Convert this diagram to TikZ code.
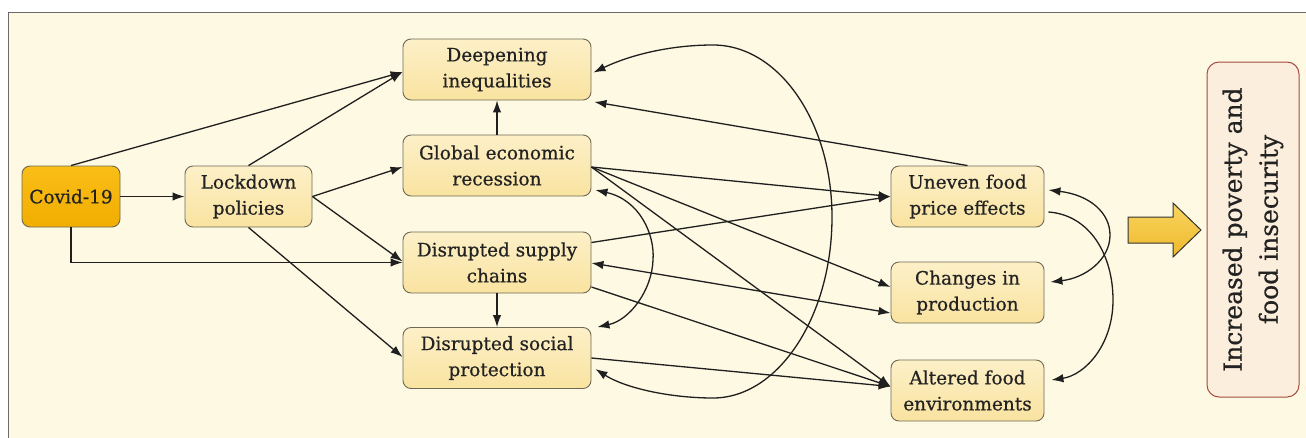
\documentclass[tikz,border=0pt]{standalone}
\usepackage{fontspec}
\setmainfont{DejaVu Serif}
\newfontfamily\slabfont[FakeBold=0.6]{DejaVu Serif}
\usetikzlibrary{arrows.meta,calc}
\definecolor{bgcream}{HTML}{FDF9E2}
\definecolor{frameg}{HTML}{6A6A6A}
\definecolor{boxtop}{HTML}{FDF0C8}
\definecolor{boxbot}{HTML}{F9E3A0}
\definecolor{boxline}{HTML}{6E6A55}
\definecolor{covtop}{HTML}{F9BE18}
\definecolor{covbot}{HTML}{F2AD00}
\definecolor{incfill}{HTML}{FBEEDC}
\definecolor{incline}{HTML}{A54B3F}
\definecolor{arrtop}{HTML}{F8D460}
\definecolor{arrbot}{HTML}{EFB92B}
\definecolor{txt}{HTML}{222222}
\tikzset{
  box/.style={draw=boxline, line width=0.9pt, rounded corners=8pt,
    top color=boxtop, bottom color=boxbot, inner sep=0pt,
    align=center, text=txt, font=\slabfont\fontsize{18.5}{26}\selectfont},
  covbox/.style={box, top color=covtop, bottom color=covbot},
  conn/.style={draw=black!88, line width=1.3pt, -{Latex[length=12pt,width=8.5pt]}},
  bconn/.style={draw=black!88, line width=1.3pt, {Latex[length=12pt,width=8.5pt]}-{Latex[length=12pt,width=8.5pt]}}
}
\begin{document}
\begin{tikzpicture}[x=1pt,y=-1pt]
\useasboundingbox (0,0) rectangle (1306,437);
\clip (0,0) rectangle (1306,437);
\fill[white] (0,0) rectangle (1306,437);
\draw[frameg, fill=bgcream, line width=0.9pt] (8,12) rectangle (1320,450);

% nodes
\node[covbox, minimum width=98pt, minimum height=61pt] (covid) at (71,196.5) {Covid-19};
\node[box, minimum width=127pt, minimum height=61pt] (lock) at (248.5,196.5) {Lockdown\\policies};
\node[box, minimum width=188pt, minimum height=61pt] (deep) at (497,69.5) {Deepening\\inequalities};
\node[box, minimum width=188pt, minimum height=61pt] (glob) at (497,165.5) {Global economic\\recession};
\node[box, minimum width=188pt, minimum height=61pt] (supp) at (497,262.5) {Disrupted supply\\chains};
\node[box, minimum width=188pt, minimum height=61pt] (soc) at (497,358) {Disrupted social\\protection};
\node[box, minimum width=153pt, minimum height=61pt] (unev) at (967.5,196.5) {Uneven food\\price effects};
\node[box, minimum width=153pt, minimum height=61pt] (chg) at (967.5,292.5) {Changes in\\production};
\node[box, minimum width=153pt, minimum height=61pt] (alt) at (967.5,390.5) {Altered food\\environments};
\node[draw=incline, line width=1pt, fill=incfill, rounded corners=12pt,
  minimum width=92pt, minimum height=335pt, inner sep=0pt] (incr) at (1253,229.5) {};
\node[rotate=90, align=center, text=txt, font=\slabfont\fontsize{25}{36}\selectfont] (incrtxt) at (incr.center) {Increased poverty and\\food insecurity};

% big arrow
\draw[line width=1pt, draw=black!80, top color=arrtop, bottom color=arrbot]
  (1128,217) -- (1173,217) -- (1173,203) -- (1201,230) -- (1173,257) -- (1173,243) -- (1128,243) -- cycle;

% straight connectors
\draw[conn] (covid.north) -- ($(deep.west)+(0,2.5)$);
\draw[conn] (lock.north) -- ($(deep.west)+(0,2.5)$);
\draw[conn] (covid.east) -- (lock.west);
\draw[conn] (covid.south) |- (supp.west);
\draw[conn] (lock.east) -- ($(glob.west)+(0,1.5)$);
\draw[conn] (lock.east) -- ($(supp.west)+(0,-1)$);
\draw[conn] (lock.south) -- ($(soc.west)+(0,-1)$);
\draw[conn] (glob.north) -- (deep.south);
\draw[conn] (supp.south) -- (soc.north);
\draw[conn] ($(glob.east)+(0,1.5)$) -- (unev.west);
\draw[conn] ($(glob.east)+(0,1.5)$) -- ($(chg.west)+(0,-5.5)$);
\draw[conn] ($(glob.east)+(0,1.5)$) -- ($(alt.west)+(0,-4)$);
\draw[conn] ($(supp.east)+(0,-20)$) -- (unev.west);
\draw[bconn] ($(supp.east)+(0,0.5)$) -- ($(chg.west)+(0,20.5)$);
\draw[conn] ($(supp.east)+(0,24.5)$) -- ($(alt.west)+(0,-4)$);
\draw[conn] (soc.east) -- ($(alt.west)+(0,-4)$);
\draw[conn] (unev.north) -- ($(deep.south east)+(3,1.5)$);

% curved connectors
\draw[bconn] ($(deep.east)+(2,3)$) .. controls (630,55) and (670,45) .. (713,45)
  .. controls (779,45) and (832,122) .. (832,217)
  .. controls (832,317) and (778,398) .. (713,398)
  .. controls (670,398) and (625,388) .. ($(soc.east)+(4,11)$);
\draw[bconn] ($(glob.east)+(4,24.5)$) .. controls (640,200) and (655,235) .. (653,260)
  .. controls (652,290) and (630,320) .. ($(soc.north east)+(6,0)$);
\draw[bconn] ($(unev.east)+(4,-6.5)$) .. controls (1090,195) and (1110,213) .. (1110,235)
  .. controls (1110,260) and (1085,278) .. ($(chg.east)+(6,-10.5)$);
\draw[conn] ($(unev.east)+(4,15.5)$) .. controls (1090,215) and (1113,255) .. (1113,300)
  .. controls (1113,345) and (1085,375) .. ($(alt.east)+(7,-10.5)$);
\end{tikzpicture}
\end{document}
